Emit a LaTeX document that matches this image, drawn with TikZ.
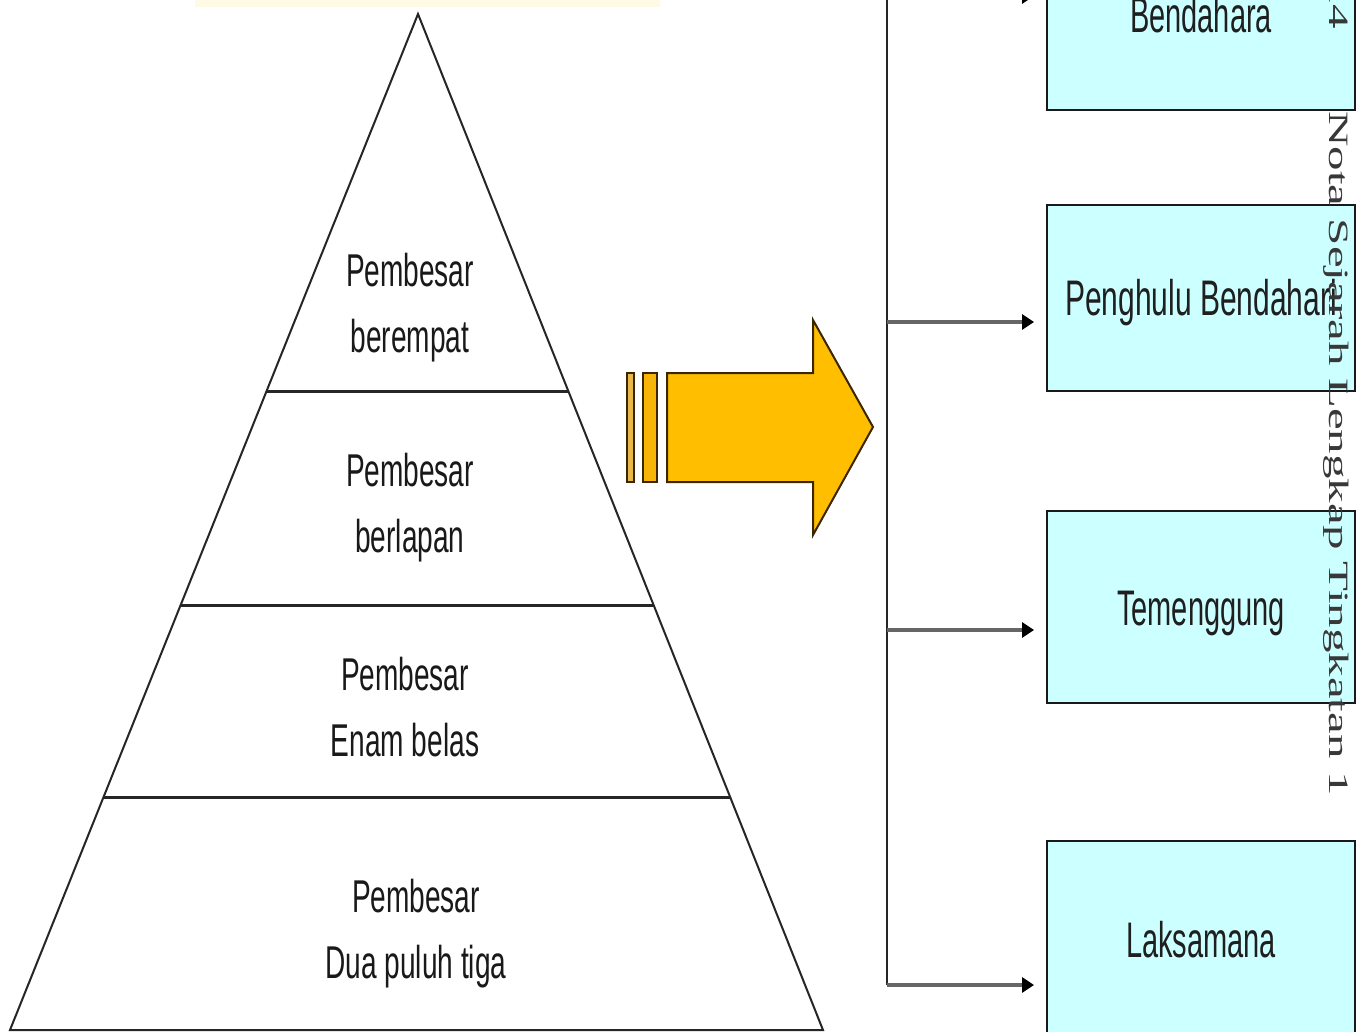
\documentclass[tikz,border=0pt]{standalone}
\usepackage{fontspec}
\setmainfont{Liberation Sans}
\newfontfamily\footserif{Liberation Serif}
\usetikzlibrary{arrows.meta,calc}
\definecolor{boxfill}{HTML}{CCFFFF}
\definecolor{arrowfill}{HTML}{FFBE00}
\definecolor{barlight}{HTML}{E8B84A}
\definecolor{baramber}{HTML}{F7B50A}
\definecolor{arrowedge}{HTML}{3A2600}
\definecolor{glow}{HTML}{FFFAE3}
\newcommand{\narrowtxt}[1]{\scalebox{0.61}[1]{#1}}
\newcommand{\narrowbox}[2][0.58]{\scalebox{#1}[1]{#2}}
\begin{document}
\begin{tikzpicture}[x=1pt,y=-1pt,
  pyrline/.style={draw=black!85,line width=2pt},
  divider/.style={draw=black!85,line width=3pt},
  lvltext/.style={align=center,inner sep=0pt,text=black!90,font=\fontsize{46}{66}\selectfont},
  rolebox/.style={draw=black!90,line width=2pt,fill=boxfill,minimum width=308pt,inner sep=0pt,text height=36pt,text depth=0pt,text=black!88,font=\fontsize{50}{60}\selectfont},
  trunk/.style={draw=black!85,line width=2pt},
  conn/.style={draw=black!60,line width=4pt,shorten >=12pt,-{Triangle[length=12pt,width=15pt,color=black]}},
  bigarrow/.style={draw=arrowedge,line width=2pt,line join=miter},
  footer/.style={inner sep=0pt,text=black!78,font=\footserif\fontsize{28}{30}\selectfont}
]
\useasboundingbox (0,0) rectangle (1363,1032);
\fill[white] (0,0) rectangle (1363,1032);
\clip (0,0) rectangle (1363,1032);

% faint band at the top
\fill[glow] (195,-6) rectangle (660,7);

% pyramid
\coordinate (apex) at (418,14);
\coordinate (bl) at (10,1030);
\coordinate (br) at (823,1030);
\draw[pyrline] (apex) -- (br) -- (bl) -- cycle;
\draw[divider] ($(apex)!0.3711!(bl)$) -- ($(apex)!0.3711!(br)$);
\draw[divider] ($(apex)!0.5817!(bl)$) -- ($(apex)!0.5817!(br)$);
\draw[divider] ($(apex)!0.7707!(bl)$) -- ($(apex)!0.7707!(br)$);

\node[lvltext] (lv1) at (410,308) {\narrowtxt{Pembesar}\\\narrowtxt{berempat}};
\node[lvltext] (lv2) at (410,508) {\narrowtxt{Pembesar}\\\narrowtxt{berlapan}};
\node[lvltext] (lv3) at (405,707) {\narrowtxt{Pembesar}\\\narrowtxt{Enam belas}};
\node[lvltext] (lv4) at (416,934) {\narrowtxt{Pembesar}\\\narrowtxt{Dua puluh tiga}};

% big orange arrow
\path[bigarrow,fill=barlight] (627,373) rectangle (634,482);
\path[bigarrow,fill=baramber] (643,373) rectangle (657,482);
\path[bigarrow,fill=arrowfill] (667,373) -- (813,373) -- (813,320) -- (873,427)
  -- (813,535) -- (813,482) -- (667,482) -- cycle;

% role boxes
\node[rolebox,minimum height=190pt] (b1) at (1201,15) {\narrowbox{Bendahara}};
\node[rolebox,minimum height=186pt] (b2) at (1201,298) {\narrowbox[0.6]{Penghulu Bendahari}};
\node[rolebox,minimum height=192pt] (b3) at (1201,607) {\narrowbox{Temenggung}};
\node[rolebox,minimum height=196pt] (b4) at (1201,939) {\narrowbox{Laksamana}};

% trunk and connectors
\coordinate (ttop) at (887,-12);
\coordinate (t1) at (887,-4);
\coordinate (t2) at (887,322);
\coordinate (t3) at (887,630);
\coordinate (t4) at (887,985);
\draw[trunk] (ttop) -- (t4);
\draw[conn] (t1) -- (t1 -| b1.west);
\draw[conn] (t2) -- (t2 -| b2.west);
\draw[conn] (t3) -- (t3 -| b3.west);
\draw[conn] (t4) -- (t4 -| b4.west);

% vertical footer text
\node[footer,anchor=north] (foot) at (1336,-20)
  {\rotatebox{-90}{\scalebox{1.75}[1]{14\hspace{47pt}Nota Sejarah Lengkap Tingkatan 1}}};
\end{tikzpicture}
\end{document}
